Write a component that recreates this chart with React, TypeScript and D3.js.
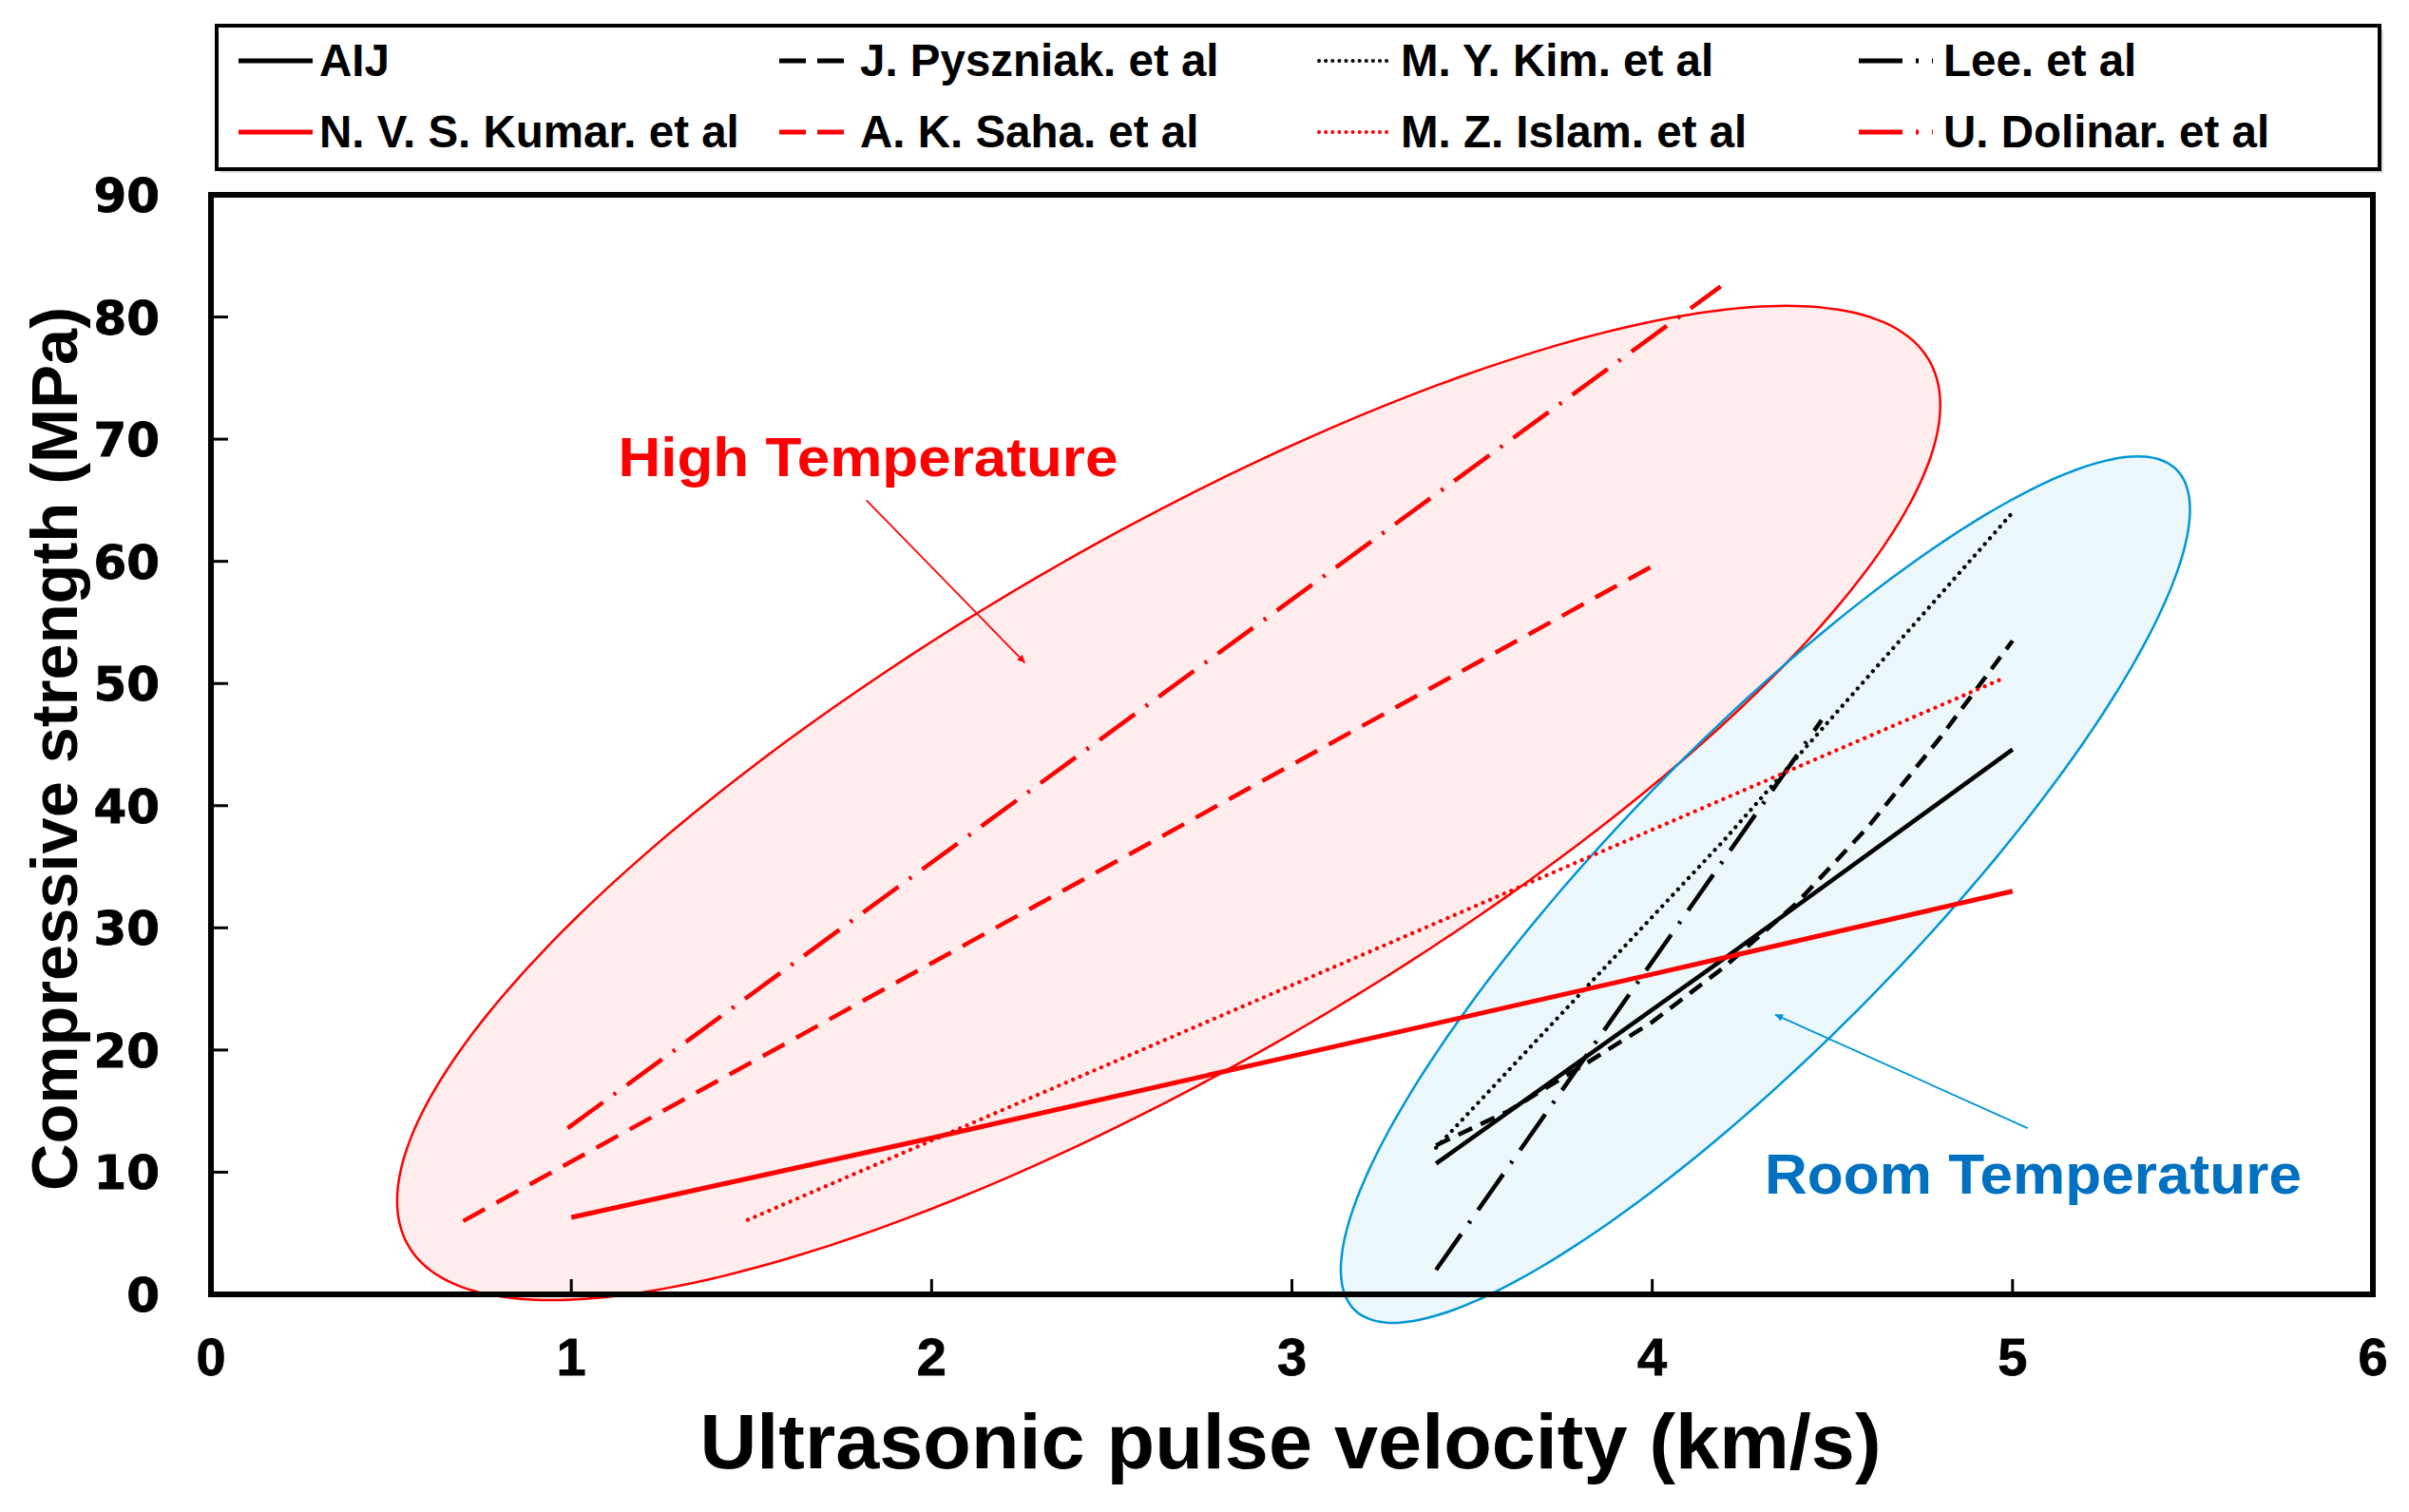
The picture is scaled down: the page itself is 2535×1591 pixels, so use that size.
import React from "react";
import * as d3 from "d3";

// ---- data (km/s, MPa) ----
const aij = [[3.4, 10.7], [4.2, 27.5], [5.0, 44.6]];
const pyszniak = [[3.4, 12.2], [3.6, 15.0], [3.8, 18.6], [4.0, 22.3], [4.2, 26.8], [4.4, 32.0], [4.6, 38.3], [4.8, 45.6], [5.0, 53.5]];
const kim = [[3.4, 12.0], [4.2, 37.2], [5.0, 64.0]];
const lee = [[3.4, 2.0], [4.47, 47.0]];
const kumar = [[1.0, 6.3], [2.0, 12.8], [3.0, 19.5], [4.0, 26.2], [5.0, 33.0]];
const saha = [[0.7, 6.0], [4.0, 59.6]];
const islam = [[1.49, 6.1], [4.98, 50.5]];
const dolinar = [[0.99, 13.6], [4.19, 82.5]];

const xTicks = [0, 1, 2, 3, 4, 5, 6];
const yTicks = [0, 10, 20, 30, 40, 50, 60, 70, 80, 90];

const legendNames = [
  "AIJ", "J. Pyszniak. et al", "M. Y. Kim. et al", "Lee. et al",
  "N. V. S. Kumar. et al", "A. K. Saha. et al", "M. Z. Islam. et al", "U. Dolinar. et al",
];

// annotation ellipses in data units: centre, semi-axis vectors
const highEllipse = { c: [2.658, 40.22], u: [2.110, 36.25], w: [0.365, -18.48] };
const roomEllipse = { c: [4.314, 33.13], u: [1.140, 34.40], w: [0.298, -8.60] };
const highArrow = [[1.819, 65.0], [2.259, 51.7]];
const roomArrow = [[5.042, 13.6], [4.341, 22.9]];
const highLabel = [1.13, 66.95];
const roomLabel = [4.312, 8.24];

// ---- styles ----
const RED = "#FF0000";
const BLACK = "#000000";
const series = [
  { name: legendNames[0], data: aij, color: BLACK, dash: null, w: 4.5, cap: "butt" },
  { name: legendNames[1], data: pyszniak, color: BLACK, dash: "16 10", w: 4.5, cap: "butt" },
  { name: legendNames[2], data: kim, color: BLACK, dash: "0.1 8", w: 4.2, cap: "round" },
  { name: legendNames[3], data: lee, color: BLACK, dash: "46 14 3 14", w: 4.5, cap: "butt" },
  { name: legendNames[4], data: kumar, color: RED, dash: null, w: 5, cap: "butt" },
  { name: legendNames[5], data: saha, color: RED, dash: "26 14", w: 4.5, cap: "butt" },
  { name: legendNames[6], data: islam, color: RED, dash: "0.1 8", w: 4.2, cap: "round" },
  { name: legendNames[7], data: dolinar, color: RED, dash: "46 14 3 14", w: 4.5, cap: "butt" },
];

const W = 2535, H = 1591;
const x = d3.scaleLinear().domain([0, 6]).range([222, 2497]);
const y = d3.scaleLinear().domain([0, 90]).range([1362, 205]);
const line = d3.line<number[]>().x(d => x(d[0])).y(d => y(d[1]));

function ellipsePath(e: any) {
  const pts = d3.range(0, 360, 2).map(deg => {
    const t = (deg * Math.PI) / 180;
    return [
      e.c[0] + e.u[0] * Math.cos(t) + e.w[0] * Math.sin(t),
      e.c[1] + e.u[1] * Math.cos(t) + e.w[1] * Math.sin(t),
    ];
  });
  return d3.line<number[]>().x(d => x(d[0])).y(d => y(d[1])).curve(d3.curveCardinalClosed)(pts) as string;
}

const FONT = "'Liberation Sans', Arial, sans-serif";

export default function App() {
  const legendCols = [251, 820, 1388, 1956];
  const legendTextX = [336, 905, 1474, 2045];
  const legendRows = [64, 139];
  return (
    <svg width={W} height={H} style={{ position: "absolute", left: 0, top: 0, background: "#fff" }}>
      <defs>
        <marker id="arrRed" viewBox="0 0 10 10" refX="10" refY="5" markerWidth="9" markerHeight="8" markerUnits="userSpaceOnUse" orient="auto">
          <path d="M0,0 L10,5 L0,10 z" fill={RED} />
        </marker>
        <marker id="arrBlue" viewBox="0 0 10 10" refX="10" refY="5" markerWidth="9" markerHeight="8" markerUnits="userSpaceOnUse" orient="auto">
          <path d="M0,0 L10,5 L0,10 z" fill="#0096D6" />
        </marker>
      </defs>
      <rect width={W} height={H} fill="#fff" />

      {/* legend */}
      <rect x={232} y={31} width={2276} height={151} fill="#bbb" stroke="none" opacity={0.5} />
      <rect x={228} y={27} width={2276} height={151} fill="#fff" stroke="#000" strokeWidth={4} />
      {series.map((s, i) => {
        const row = Math.floor(i / 4), col = i % 4;
        const ly = legendRows[row];
        const x0 = legendCols[col];
        return (
          <g key={s.name}>
            <line x1={x0} x2={x0 + 78} y1={ly} y2={ly} stroke={s.color}
              strokeWidth={s.cap === "round" ? 4 : 5}
              strokeDasharray={s.dash ? (col === 1 ? "28 12" : col === 3 ? "46 14 3 14" : "0.1 7") : undefined}
              strokeLinecap={s.cap as any} />
            <text x={legendTextX[col]} y={ly + 16} fontFamily={FONT} fontWeight="bold" fontSize={47.5} fill="#000">{s.name}</text>
          </g>
        );
      })}

      {/* ellipses */}
      <path d={ellipsePath(highEllipse)} fill="rgba(255,0,0,0.07)" stroke="none" />
      <path d={ellipsePath(roomEllipse)} fill="rgba(0,150,200,0.08)" stroke="none" />
      <path d={ellipsePath(highEllipse)} fill="none" stroke={RED} strokeWidth={2.5} />
      <path d={ellipsePath(roomEllipse)} fill="none" stroke="#0096D6" strokeWidth={2.5} />

      {/* frame */}
      <rect x={222} y={205} width={2275} height={1157} fill="none" stroke="#000" strokeWidth={6} />
      {yTicks.slice(1, -1).map(t => (
        <line key={"yt" + t} x1={x(0)} x2={x(0) + 18} y1={y(t)} y2={y(t)} stroke="#000" strokeWidth={3} />
      ))}
      {xTicks.slice(1, -1).map(t => (
        <line key={"xt" + t} x1={x(t)} x2={x(t)} y1={y(0)} y2={y(0) - 16} stroke="#000" strokeWidth={3} />
      ))}

      {/* series */}
      {series.map(s => (
        <path key={"s" + s.name} d={line(s.data as any) as string} fill="none" stroke={s.color}
          strokeWidth={s.w} strokeDasharray={s.dash || undefined} strokeLinecap={s.cap as any} />
      ))}

      {/* tick labels */}
      {yTicks.map(t => (
        <text key={"yl" + t} x={168} y={y(t) + 18} textAnchor="end" fontFamily="'DejaVu Sans', sans-serif" fontWeight="bold" fontSize={50} stroke="#000" strokeWidth={0.8}>{t}</text>
      ))}
      {xTicks.map(t => (
        <text key={"xl" + t} x={x(t)} y={1447} textAnchor="middle" fontFamily={FONT} fontWeight="bold" fontSize={56} stroke="#000" strokeWidth={0.8}>{t}</text>
      ))}

      {/* axis titles */}
      <text x={1358} y={1545} textAnchor="middle" fontFamily={FONT} fontWeight="bold" fontSize={81} textLength={1243} lengthAdjust="spacingAndGlyphs">Ultrasonic pulse velocity (km/s)</text>
      <text transform="translate(81,788) rotate(-90)" textAnchor="middle" fontFamily={FONT} fontWeight="bold" fontSize={68} textLength={930} lengthAdjust="spacingAndGlyphs">Compressive strength (MPa)</text>

      {/* annotations */}
      <text x={x(highLabel[0])} y={y(highLabel[1])} fontFamily={FONT} fontWeight="bold" fontSize={58} fill={RED} textLength={526} lengthAdjust="spacingAndGlyphs">High Temperature</text>
      <line x1={x(highArrow[0][0])} y1={y(highArrow[0][1])} x2={x(highArrow[1][0])} y2={y(highArrow[1][1])} stroke={RED} strokeWidth={1.8} markerEnd="url(#arrRed)" />
      <text x={x(roomLabel[0])} y={y(roomLabel[1])} fontFamily={FONT} fontWeight="bold" fontSize={60} fill="#0070C0" textLength={565} lengthAdjust="spacingAndGlyphs">Room Temperature</text>
      <line x1={x(roomArrow[0][0])} y1={y(roomArrow[0][1])} x2={x(roomArrow[1][0])} y2={y(roomArrow[1][1])} stroke="#0096D6" strokeWidth={1.8} markerEnd="url(#arrBlue)" />
    </svg>
  );
}
